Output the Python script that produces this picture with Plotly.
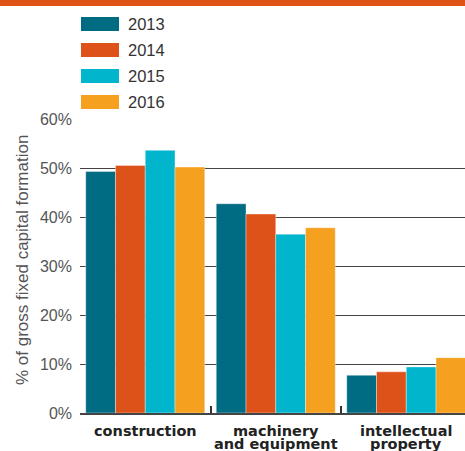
import plotly.graph_objects as go

categories = ["construction", "machinery and equipment", "intellectual property"]
category_lines = [["construction"], ["machinery", "and equipment"], ["intellectual", "property"]]
years = ["2013", "2014", "2015", "2016"]
values_2013 = [49.3, 42.7, 7.7]
values_2014 = [50.5, 40.6, 8.4]
values_2015 = [53.6, 36.5, 9.4]
values_2016 = [50.2, 37.8, 11.3]
series = [values_2013, values_2014, values_2015, values_2016]
colors = ["#006C84", "#DD5218", "#00B5CC", "#F5A11F"]
y_title = "% of gross fixed capital formation"

W, H = 465, 451
L, R, T, B = 80, 0, 119, 38
PW = W - L - R
PH = H - T - B


def px_x(px):
    return (px - L) / PW


def px_y(py):
    return (H - B - py) / PH


fig = go.Figure()
for name, vals, col in zip(years, series, colors):
    fig.add_trace(go.Bar(
        x=categories, y=vals, name=name,
        marker=dict(color=col, line=dict(color="rgba(255,255,255,0.6)", width=0.6)),
        showlegend=False,
    ))

shapes = []
annotations = []

# top orange band
shapes.append(dict(type="rect", xref="paper", yref="paper",
                   x0=px_x(0), x1=px_x(W), y0=px_y(6), y1=px_y(0),
                   fillcolor="#DE5216", line=dict(width=0), layer="above"))

# manual legend
for i, (name, col) in enumerate(zip(years, colors)):
    top = 17 + 26 * i
    shapes.append(dict(type="rect", xref="paper", yref="paper",
                       x0=px_x(81), x1=px_x(119), y0=px_y(top + 14), y1=px_y(top),
                       fillcolor=col, line=dict(width=0)))
    annotations.append(dict(text=name, xref="paper", yref="paper",
                            x=px_x(126), y=px_y(top + 7), xanchor="left", yanchor="middle",
                            showarrow=False,
                            font=dict(family="Liberation Sans, Arial, sans-serif", size=16.5, color="#333")))

# category labels
for cat, lines in zip(categories, category_lines):
    for j, line in enumerate(lines):
        annotations.append(dict(text="<b>" + line + "</b>", xref="x", yref="paper",
                                x=cat, y=px_y(431 + 12.5 * j), xanchor="center", yanchor="middle",
                                showarrow=False,
                                font=dict(family="DejaVu Sans, sans-serif", size=14.5, color="#222")))

# y axis title
annotations.append(dict(text=y_title, xref="paper", yref="paper",
                        x=px_x(22), y=px_y(260), textangle=-90,
                        xanchor="center", yanchor="middle", showarrow=False,
                        font=dict(family="Liberation Sans, Arial, sans-serif", size=17, color="#555")))

fig.update_layout(
    width=W, height=H,
    margin=dict(l=L, r=R, t=T, b=B, pad=0),
    paper_bgcolor="white", plot_bgcolor="white",
    barmode="group", bargap=0.088, bargroupgap=0,
    shapes=shapes, annotations=annotations,
    xaxis=dict(type="category", range=[-0.5, 2.45], showticklabels=False,
               ticks="inside", tickson="boundaries", ticklen=7, tickwidth=1.5, tickcolor="#333",
               showline=True, linecolor="#444", linewidth=2, showgrid=False, zeroline=False,
               fixedrange=True),
    yaxis=dict(range=[0, 60], dtick=10, ticksuffix="%", showgrid=True, gridcolor="#444",
               gridwidth=1, zeroline=False, showline=False, ticks="",
               tickfont=dict(family="Liberation Sans, Arial, sans-serif", size=16, color="#555"),
               ticklabelstandoff=7, fixedrange=True),
    font=dict(family="Liberation Sans, Arial, sans-serif"),
)

fig.write_html("out.html", config={"displayModeBar": False},
               post_script="document.body.style.margin='0';document.body.style.overflow='hidden';")
